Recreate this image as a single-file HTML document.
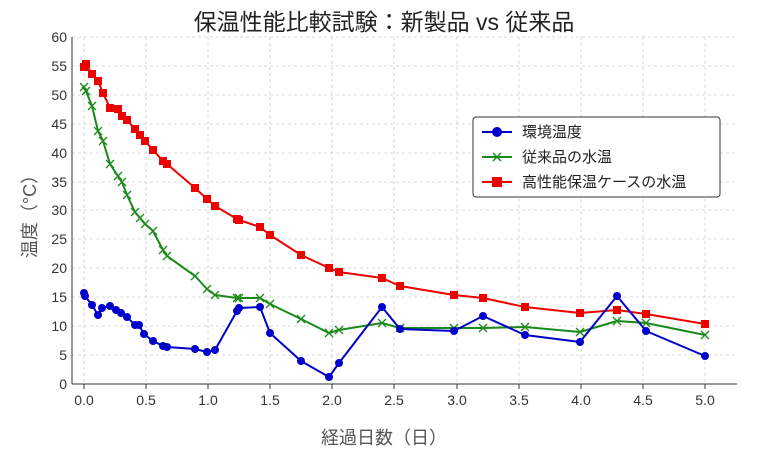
<!DOCTYPE html><html><head><meta charset="utf-8"><style>body{margin:0;background:#fff}svg{display:block}text{font-family:"Liberation Sans","Noto Sans CJK JP",sans-serif}</style></head><body>
<svg width="768" height="461" xmlns="http://www.w3.org/2000/svg">
<defs>
<marker id="mx" markerUnits="userSpaceOnUse" markerWidth="10" markerHeight="10" refX="5" refY="5" overflow="visible"><path d="M1 1L9 9M9 1L1 9" stroke="#1a8a1a" stroke-width="1.3" fill="none"/></marker>
</defs>
<rect width="768" height="461" fill="#fff"/>
<g stroke="#ccc" stroke-dasharray="3,3" stroke-width="0.8">
<line x1="84" y1="37" x2="84" y2="384"/><line x1="146" y1="37" x2="146" y2="384"/><line x1="208" y1="37" x2="208" y2="384"/><line x1="270" y1="37" x2="270" y2="384"/><line x1="332" y1="37" x2="332" y2="384"/><line x1="394" y1="37" x2="394" y2="384"/><line x1="457" y1="37" x2="457" y2="384"/><line x1="519" y1="37" x2="519" y2="384"/><line x1="581" y1="37" x2="581" y2="384"/><line x1="643" y1="37" x2="643" y2="384"/><line x1="705" y1="37" x2="705" y2="384"/>
<line x1="72" y1="37" x2="737" y2="37"/><line x1="72" y1="66" x2="737" y2="66"/><line x1="72" y1="95" x2="737" y2="95"/><line x1="72" y1="124" x2="737" y2="124"/><line x1="72" y1="153" x2="737" y2="153"/><line x1="72" y1="182" x2="737" y2="182"/><line x1="72" y1="210" x2="737" y2="210"/><line x1="72" y1="239" x2="737" y2="239"/><line x1="72" y1="268" x2="737" y2="268"/><line x1="72" y1="297" x2="737" y2="297"/><line x1="72" y1="326" x2="737" y2="326"/><line x1="72" y1="355" x2="737" y2="355"/>
</g>
<g stroke="#333" stroke-width="1"><line x1="72" y1="37" x2="72" y2="384"/><line x1="72" y1="384" x2="737" y2="384"/>
<line x1="84" y1="384" x2="84" y2="389"/><line x1="146" y1="384" x2="146" y2="389"/><line x1="208" y1="384" x2="208" y2="389"/><line x1="270" y1="384" x2="270" y2="389"/><line x1="332" y1="384" x2="332" y2="389"/><line x1="394" y1="384" x2="394" y2="389"/><line x1="457" y1="384" x2="457" y2="389"/><line x1="519" y1="384" x2="519" y2="389"/><line x1="581" y1="384" x2="581" y2="389"/><line x1="643" y1="384" x2="643" y2="389"/><line x1="705" y1="384" x2="705" y2="389"/>
</g>
<g font-size="14" fill="#333" text-anchor="middle">
<text x="84" y="405">0.0</text><text x="146" y="405">0.5</text><text x="208" y="405">1.0</text><text x="270" y="405">1.5</text><text x="332" y="405">2.0</text><text x="394" y="405">2.5</text><text x="457" y="405">3.0</text><text x="519" y="405">3.5</text><text x="581" y="405">4.0</text><text x="643" y="405">4.5</text><text x="705" y="405">5.0</text>
</g>
<g font-size="14" fill="#333" text-anchor="end">
<text x="67" y="42">60</text><text x="67" y="71">55</text><text x="67" y="100">50</text><text x="67" y="129">45</text><text x="67" y="158">40</text><text x="67" y="187">35</text><text x="67" y="215">30</text><text x="67" y="244">25</text><text x="67" y="273">20</text><text x="67" y="302">15</text><text x="67" y="331">10</text><text x="67" y="360">5</text><text x="67" y="389">0</text>
</g>
<text x="384" y="30" font-size="23" text-anchor="middle" fill="#222">保温性能比較試験：新製品 vs 従来品</text>
<text x="384" y="444" font-size="18" text-anchor="middle" fill="#555">経過日数（日）</text>
<text transform="translate(36,212) rotate(-90)" font-size="18" text-anchor="middle" fill="#555">温度（°C）</text>
<g fill="none" stroke-width="2" stroke-linejoin="round">
<polyline stroke="#e00" points="84,67 86,64 92,74 98,81 103,93 110,108 118,109 122,116 127,120 135,129 140,135 145,141 153,150 163,161 167,164 195,188 207,199 215,206 237,219 239,220 260,227 270,235 301,255 329,268 339,272 382,278 400,286 454,295 483,298 525,307 580,313 617,310 646,314 705,324"/>
<polyline stroke="#1a8a1a" marker-start="url(#mx)" marker-mid="url(#mx)" marker-end="url(#mx)" points="84,87 86,91 92,106 98,131 103,141 110,164 118,176 122,182 127,195 135,212 140,218 145,224 153,231 163,250 167,256 195,276 207,289 215,295 237,298 239,298 260,298 270,304 301,319 329,333 339,330 382,323 400,328 454,328 483,328 525,327 580,332 617,321 646,323 705,335"/>
<polyline stroke="#00c" points="84,293 85,296 92,305 98,315 102,308 110,306 116,310 121,313 127,317 135,325 139,325 144,334 153,341 163,346 167,347 195,349 207,352 215,350 237,311 239,308 260,307 270,333 301,361 329,377 339,363 382,307 400,329 454,331 483,316 525,335 580,342 617,296 646,331 705,356"/>
</g>
<g fill="#e00">
<rect x="80" y="63" width="8" height="8"/><rect x="82" y="60" width="8" height="8"/><rect x="88" y="70" width="8" height="8"/><rect x="94" y="77" width="8" height="8"/><rect x="99" y="89" width="8" height="8"/><rect x="106" y="104" width="8" height="8"/><rect x="114" y="105" width="8" height="8"/><rect x="118" y="112" width="8" height="8"/><rect x="123" y="116" width="8" height="8"/><rect x="131" y="125" width="8" height="8"/><rect x="136" y="131" width="8" height="8"/><rect x="141" y="137" width="8" height="8"/><rect x="149" y="146" width="8" height="8"/><rect x="159" y="157" width="8" height="8"/><rect x="163" y="160" width="8" height="8"/><rect x="191" y="184" width="8" height="8"/><rect x="203" y="195" width="8" height="8"/><rect x="211" y="202" width="8" height="8"/><rect x="233" y="215" width="8" height="8"/><rect x="235" y="216" width="8" height="8"/><rect x="256" y="223" width="8" height="8"/><rect x="266" y="231" width="8" height="8"/><rect x="297" y="251" width="8" height="8"/><rect x="325" y="264" width="8" height="8"/><rect x="335" y="268" width="8" height="8"/><rect x="378" y="274" width="8" height="8"/><rect x="396" y="282" width="8" height="8"/><rect x="450" y="291" width="8" height="8"/><rect x="479" y="294" width="8" height="8"/><rect x="521" y="303" width="8" height="8"/><rect x="576" y="309" width="8" height="8"/><rect x="613" y="306" width="8" height="8"/><rect x="642" y="310" width="8" height="8"/><rect x="701" y="320" width="8" height="8"/>
</g>
<g fill="#00c">
<circle cx="84" cy="293" r="4"/><circle cx="85" cy="296" r="4"/><circle cx="92" cy="305" r="4"/><circle cx="98" cy="315" r="4"/><circle cx="102" cy="308" r="4"/><circle cx="110" cy="306" r="4"/><circle cx="116" cy="310" r="4"/><circle cx="121" cy="313" r="4"/><circle cx="127" cy="317" r="4"/><circle cx="135" cy="325" r="4"/><circle cx="139" cy="325" r="4"/><circle cx="144" cy="334" r="4"/><circle cx="153" cy="341" r="4"/><circle cx="163" cy="346" r="4"/><circle cx="167" cy="347" r="4"/><circle cx="195" cy="349" r="4"/><circle cx="207" cy="352" r="4"/><circle cx="215" cy="350" r="4"/><circle cx="237" cy="311" r="4"/><circle cx="239" cy="308" r="4"/><circle cx="260" cy="307" r="4"/><circle cx="270" cy="333" r="4"/><circle cx="301" cy="361" r="4"/><circle cx="329" cy="377" r="4"/><circle cx="339" cy="363" r="4"/><circle cx="382" cy="307" r="4"/><circle cx="400" cy="329" r="4"/><circle cx="454" cy="331" r="4"/><circle cx="483" cy="316" r="4"/><circle cx="525" cy="335" r="4"/><circle cx="580" cy="342" r="4"/><circle cx="617" cy="296" r="4"/><circle cx="646" cy="331" r="4"/><circle cx="705" cy="356" r="4"/>
</g>
<rect x="473" y="117" width="247" height="80" rx="3" fill="#fff" stroke="#333" stroke-width="1"/>
<line x1="482" y1="132" x2="512" y2="132" stroke="#00c" stroke-width="2"/><circle cx="497" cy="132" r="5" fill="#00c"/>
<line x1="482" y1="157" x2="512" y2="157" stroke="#1a8a1a" stroke-width="2"/><path d="M493 153l8 8M501 153l-8 8" stroke="#1a8a1a" stroke-width="1.5"/>
<line x1="482" y1="182" x2="512" y2="182" stroke="#e00" stroke-width="2"/><rect x="492" y="177" width="10" height="10" fill="#e00"/>
<g font-size="15" fill="#222"><text x="522" y="137">環境温度</text><text x="522" y="162">従来品の水温</text><text x="522" y="187">高性能保温ケースの水温</text></g>
</svg></body></html>
